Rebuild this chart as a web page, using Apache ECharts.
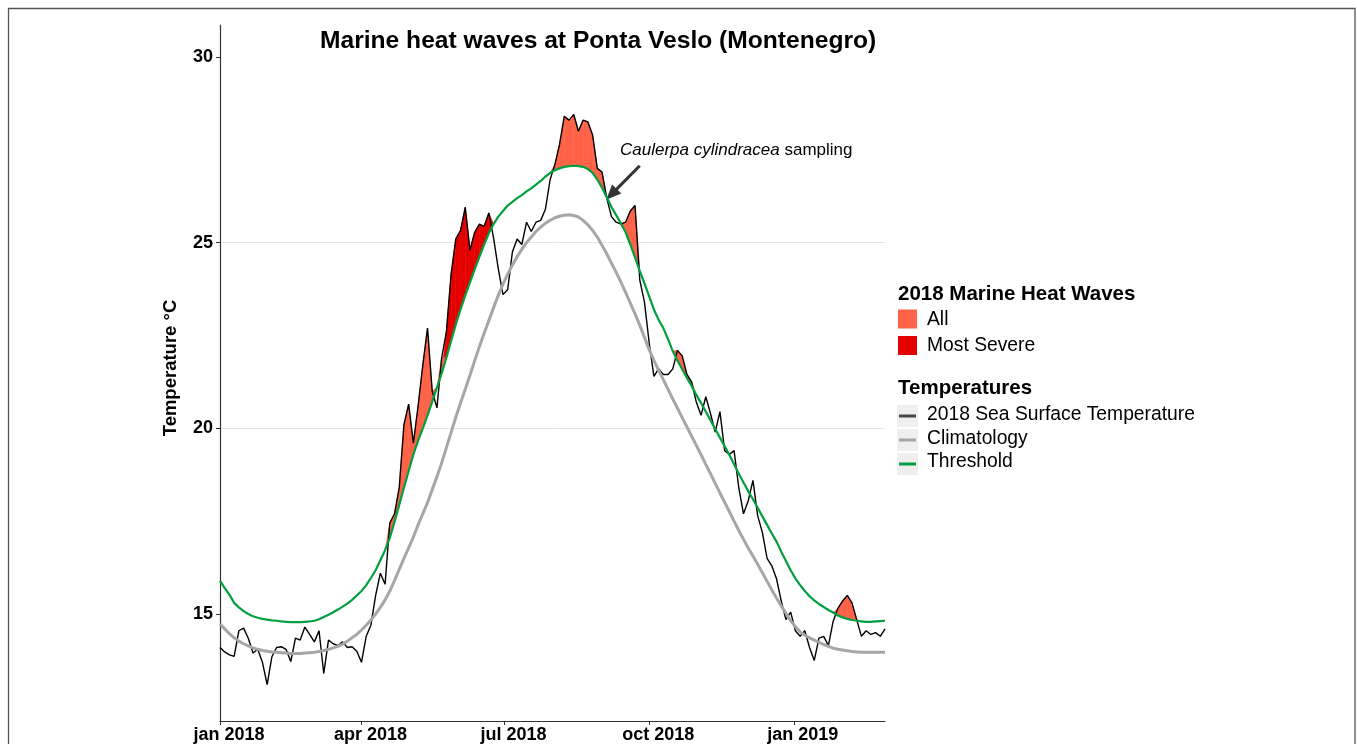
<!DOCTYPE html>
<html>
<head>
<meta charset="utf-8">
<title>Marine heat waves at Ponta Veslo</title>
<script src="https://cdn.jsdelivr.net/npm/echarts@6/dist/echarts.min.js"></script>
<style>
  html, body { margin: 0; padding: 0; background: #fff; }
  #main { width: 1357px; height: 744px; }
</style>
</head>
<body>
<div id="main"></div>
<script>
// one reading every 3 days, from 1 jan 2018 (day 0) to end feb 2019
var stepDays = 3;

// 2018 sea surface temperature
var sst = [
  14.10, 13.98, 13.90, 13.86, 14.55, 14.62, 14.35, 13.95, 14.05, 13.70,
  13.10, 13.85, 14.10, 14.12, 14.05, 13.72, 14.35, 14.30, 14.65, 14.45,
  14.25, 14.55, 13.40, 14.30, 14.20, 14.15, 14.25, 14.10, 14.12, 14.00,
  13.70, 14.40, 14.70, 15.50, 16.10, 15.80, 17.45, 17.70, 18.40, 20.10,
  20.65, 19.60, 20.60, 21.70, 22.70, 21.00, 20.55, 21.90, 22.60, 24.15,
  25.10, 25.33, 25.95, 24.80, 25.28, 25.50, 25.44, 25.80, 25.13, 24.30,
  23.60, 23.74, 24.75, 25.10, 24.95, 25.55, 25.30, 25.55, 25.60, 25.90,
  26.70, 27.10, 27.65, 28.40, 28.30, 28.45, 28.00, 28.30, 28.25, 27.90,
  27.00, 26.90, 26.20, 25.70, 25.55, 25.50, 25.55, 25.85, 26.00, 24.00,
  23.40, 22.30, 21.40, 21.60, 21.45, 21.45, 21.60, 22.10, 21.95, 21.45,
  21.25, 20.70, 20.35, 20.85, 20.40, 19.90, 20.45, 19.40, 19.30, 19.40,
  18.40, 17.70, 18.05, 18.60, 17.65, 17.20, 16.50, 16.30, 15.95, 15.35,
  14.85, 15.05, 14.55, 14.40, 14.55, 14.10, 13.75, 14.35, 14.40, 14.15,
  14.80, 15.15, 15.35, 15.50, 15.30, 14.85, 14.40, 14.55, 14.45, 14.50,
  14.40, 14.60
];

var climatology = [
  14.73, 14.60, 14.47, 14.36, 14.27, 14.20, 14.14, 14.09, 14.05, 14.02,
  14.00, 13.98, 13.97, 13.96, 13.95, 13.94, 13.94, 13.94, 13.95, 13.96,
  13.97, 13.99, 14.02, 14.05, 14.09, 14.13, 14.19, 14.27, 14.36, 14.45,
  14.57, 14.70, 14.84, 15.00, 15.18, 15.38, 15.62, 15.90, 16.20, 16.50,
  16.78, 17.07, 17.40, 17.70, 18.00, 18.35, 18.70, 19.07, 19.48, 19.89,
  20.30, 20.68, 21.05, 21.43, 21.82, 22.20, 22.56, 22.90, 23.25, 23.58,
  23.88, 24.15, 24.40, 24.62, 24.82, 25.00, 25.15, 25.30, 25.42, 25.52,
  25.60, 25.67, 25.71, 25.74, 25.75, 25.73, 25.69, 25.60, 25.48, 25.33,
  25.15, 24.93, 24.70, 24.45, 24.20, 23.94, 23.66, 23.37, 23.08, 22.78,
  22.45, 22.12, 21.83, 21.56, 21.31, 21.05, 20.79, 20.54, 20.29, 20.04,
  19.79, 19.54, 19.29, 19.03, 18.78, 18.52, 18.26, 18.01, 17.76, 17.50,
  17.25, 17.01, 16.78, 16.56, 16.34, 16.11, 15.88, 15.65, 15.43, 15.22,
  15.02, 14.82, 14.66, 14.52, 14.43, 14.36, 14.30, 14.24, 14.18, 14.13,
  14.08, 14.05, 14.03, 14.01, 13.99, 13.98, 13.97, 13.97, 13.97, 13.97,
  13.97, 13.97
];

var threshold = [
  15.90, 15.70, 15.52, 15.30, 15.18, 15.08, 15.00, 14.94, 14.90, 14.87,
  14.85, 14.83, 14.82, 14.80, 14.79, 14.78, 14.78, 14.78, 14.79, 14.80,
  14.82, 14.86, 14.92, 14.98, 15.05, 15.12, 15.20, 15.28, 15.38, 15.50,
  15.62, 15.78, 15.97, 16.18, 16.45, 16.72, 17.05, 17.48, 17.94, 18.40,
  18.85, 19.30, 19.67, 20.00, 20.35, 20.72, 21.10, 21.48, 21.90, 22.35,
  22.80, 23.20, 23.58, 23.93, 24.28, 24.62, 24.95, 25.25, 25.50, 25.70,
  25.85, 26.00, 26.10, 26.20, 26.28, 26.38, 26.46, 26.56, 26.66, 26.78,
  26.88, 26.95, 27.00, 27.04, 27.06, 27.07, 27.06, 27.04, 26.98, 26.88,
  26.70, 26.48, 26.22, 25.96, 25.74, 25.52, 25.28, 24.95, 24.60, 24.24,
  23.90, 23.55, 23.20, 22.92, 22.70, 22.40, 22.08, 21.82, 21.59, 21.36,
  21.14, 20.90, 20.68, 20.45, 20.22, 19.98, 19.75, 19.52, 19.28, 19.03,
  18.78, 18.54, 18.31, 18.09, 17.86, 17.63, 17.40, 17.17, 16.95, 16.68,
  16.43, 16.18, 15.96, 15.78, 15.62, 15.48, 15.37, 15.27, 15.19, 15.11,
  15.04, 14.96, 14.91, 14.87, 14.84, 14.82, 14.80, 14.79, 14.79, 14.80,
  14.81, 14.82
];

// heat wave periods, [first day, last day]
var heatWaves = [[105, 141], [210, 267], [288, 300], [390, 405]];
var severeWaves = [[144, 174]];

var tickDays = [0, 90, 181, 273, 365];
var tickLabels = ['jan 2018', 'apr 2018', 'jul 2018', 'oct 2018', 'jan 2019'];
var tempTicks = [15, 20, 25, 30];

// arrow of the sampling note, [day, temperature]
var arrowFrom = [267, 27.07];
var arrowTo = [249, 26.3];

var FONT = '"Liberation Sans", Arial, Helvetica, sans-serif';
var COL_ALL = '#FF6347';
var COL_SEVERE = '#E50000';
var COL_CLIM = '#A6A6A6';
var COL_THR = '#00A040';

var days = sst.map(function (v, i) { return i * stepDays; });

function inPeriod(d, list) {
  return list.some(function (p) { return d >= p[0] && d <= p[1]; });
}

function pairs(arr) {
  return days.map(function (d, i) { return [d, arr[i]]; });
}

// one item per segment between two readings:
// [day0, top0, thr0, day1, top1, thr1], top = sst where it is over the threshold in a heat wave
function waveSegments(list) {
  var top = days.map(function (d, i) {
    return inPeriod(d, list) && sst[i] > threshold[i] ? sst[i] : threshold[i];
  });
  var out = [];
  for (var i = 0; i < days.length - 1; i++) {
    if (top[i] === threshold[i] && top[i + 1] === threshold[i + 1]) continue;
    out.push([days[i], top[i], threshold[i], days[i + 1], top[i + 1], threshold[i + 1]]);
  }
  return out;
}

function fillSeries(name, list, color) {
  return {
    name: name, type: 'custom', silent: true, z: 2,
    encode: { x: [0, 3], y: [1, 2, 4, 5] },
    data: waveSegments(list),
    renderItem: function (params, api) {
      var pts = [
        api.coord([api.value(0), api.value(2)]),
        api.coord([api.value(0), api.value(1)]),
        api.coord([api.value(3), api.value(4)]),
        api.coord([api.value(3), api.value(5)])
      ];
      return {
        type: 'polygon',
        shape: { points: pts },
        style: { fill: color, stroke: color, lineWidth: 0.6 }
      };
    }
  };
}

var chart = echarts.init(document.getElementById('main'));

var legendTexts = [
  { x: 898, y: 294, text: '2018 Marine Heat Waves', bold: true },
  { x: 927, y: 320, text: 'All' },
  { x: 927, y: 346, text: 'Most Severe' },
  { x: 898, y: 388, text: 'Temperatures', bold: true },
  { x: 927, y: 415, text: '2018 Sea Surface Temperature' },
  { x: 927, y: 439, text: 'Climatology' },
  { x: 927, y: 462, text: 'Threshold' }
];
var lineKeys = [
  { y: 405, color: '#444444' },
  { y: 429, color: COL_CLIM },
  { y: 453, color: COL_THR }
];

var graphics = [
  {
    type: 'rect', silent: true,
    shape: { x: 8.5, y: 8.5, width: 1346.5, height: 800 },
    style: { fill: 'none', stroke: '#555', lineWidth: 1.3 }
  },
  {
    type: 'text', x: 320, y: 41, z: 10,
    style: { text: 'Marine heat waves at Ponta Veslo (Montenegro)', font: 'bold 24.6px ' + FONT, fill: '#000', verticalAlign: 'middle' }
  },
  {
    type: 'text', x: 171, y: 368, rotation: Math.PI / 2,
    style: { text: 'Temperature °C', font: 'bold 18.5px ' + FONT, fill: '#000', align: 'center', verticalAlign: 'middle' }
  },
  {
    type: 'text', x: 620, y: 150, z: 10,
    style: {
      text: '{i|Caulerpa cylindracea} sampling',
      font: '17px ' + FONT, fill: '#000', verticalAlign: 'middle',
      rich: { i: { fontStyle: 'italic', fontSize: 17, fontFamily: FONT, fill: '#000' } }
    }
  },
  { type: 'rect', shape: { x: 898, y: 309.5, width: 19, height: 19 }, style: { fill: COL_ALL } },
  { type: 'rect', shape: { x: 898, y: 336, width: 19, height: 19 }, style: { fill: COL_SEVERE } }
];
legendTexts.forEach(function (t) {
  graphics.push({
    type: 'text', x: t.x, y: t.y,
    style: { text: t.text, font: (t.bold ? 'bold 20.5px ' : '19.3px ') + FONT, fill: '#000', verticalAlign: 'middle' }
  });
});
lineKeys.forEach(function (k) {
  graphics.push({ type: 'rect', shape: { x: 897, y: k.y, width: 21, height: 22 }, style: { fill: '#EFEFEF' } });
  graphics.push({
    type: 'line', shape: { x1: 899, y1: k.y + 11, x2: 916, y2: k.y + 11 },
    style: { stroke: k.color, lineWidth: 3 }
  });
});

var option = {
  animation: false,
  backgroundColor: '#fff',
  grid: { left: 220, right: 472, top: 25, bottom: 22, containLabel: false },
  xAxis: {
    type: 'value', min: 0, max: 423,
    axisLine: { show: true, lineStyle: { color: '#333', width: 1.2 } },
    axisTick: { show: true, customValues: tickDays, length: 4, lineStyle: { color: '#333' } },
    axisLabel: {
      customValues: tickDays,
      formatter: function (v) { return tickLabels[tickDays.indexOf(v)]; },
      color: '#000', fontWeight: 'bold', fontSize: 18, fontFamily: FONT,
      margin: 5, padding: [0, 0, 0, 18]
    },
    splitLine: { show: false }
  },
  yAxis: {
    type: 'value', min: 12.12, max: 30.86, splitNumber: 4,
    axisLine: { show: true, lineStyle: { color: '#333', width: 1.2 } },
    axisTick: { show: true, customValues: tempTicks, length: 4, lineStyle: { color: '#333' } },
    axisLabel: { customValues: tempTicks, color: '#000', fontWeight: 'bold', fontSize: 18, fontFamily: FONT, margin: 7 },
    splitLine: { show: true, showMinLine: false, showMaxLine: false, lineStyle: { color: '#E6E6E6', width: 1 } }
  },
  graphic: graphics,
  series: [
    fillSeries('Most Severe', severeWaves, COL_SEVERE),
    fillSeries('All', heatWaves, COL_ALL),
    {
      name: '2018 Sea Surface Temperature', type: 'line', z: 3,
      data: pairs(sst), symbol: 'none',
      lineStyle: { color: '#000', width: 1.4 }
    },
    {
      name: 'Climatology', type: 'line', z: 4,
      data: pairs(climatology), symbol: 'none',
      lineStyle: { color: COL_CLIM, width: 3 }
    },
    {
      name: 'Threshold', type: 'line', z: 5,
      data: pairs(threshold), symbol: 'none',
      lineStyle: { color: COL_THR, width: 2.2 },
      markLine: {
        silent: true, symbol: ['none', 'triangle'], symbolSize: [13, 15],
        label: { show: false },
        lineStyle: { color: '#333', width: 3, type: 'solid' },
        data: [[{ coord: arrowFrom }, { coord: arrowTo }]]
      }
    }
  ]
};

chart.setOption(option);
</script>
</body>
</html>
